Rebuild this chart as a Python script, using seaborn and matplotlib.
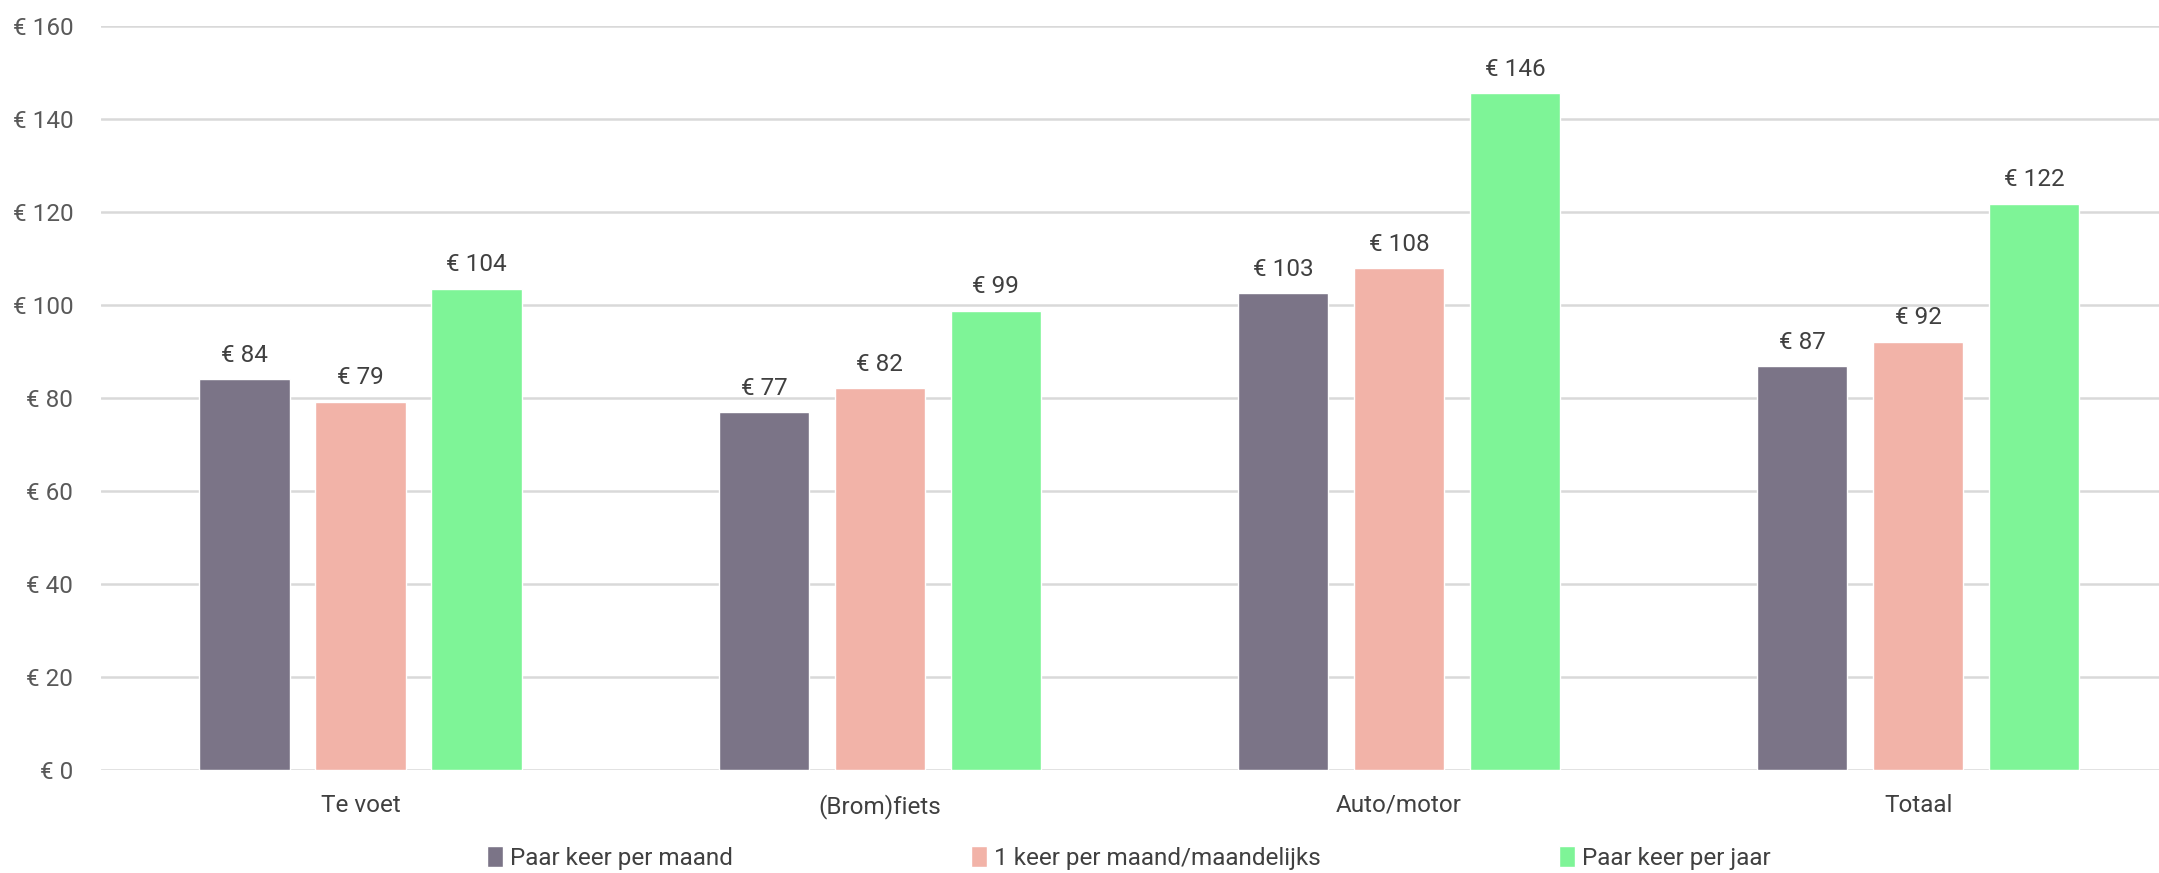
import pandas as pd
import numpy as np

import matplotlib
matplotlib.use('Agg')
import matplotlib.pyplot as plt
import seaborn as sns

# data
categories = ['Te voet', '(Brom)fiets', 'Auto/motor', 'Totaal']
series_names = ['Paar keer per maand', '1 keer per maand/maandelijks', 'Paar keer per jaar']
paar_keer_per_maand = [84.1, 77.0, 102.6, 86.9]
een_keer_per_maand = [79.2, 82.1, 107.9, 92.1]
paar_keer_per_jaar = [103.5, 98.8, 145.6, 121.8]
y_ticks = [0, 20, 40, 60, 80, 100, 120, 140, 160]

colors = ['#7B7487', '#F2B3A8', '#7EF497']

df = pd.DataFrame({
    'categorie': categories * 3,
    'reeks': [s for s in series_names for _ in categories],
    'bedrag': paar_keer_per_maand + een_keer_per_maand + paar_keer_per_jaar,
})

sns.set_theme(style='white')
plt.rcParams['font.family'] = ['Roboto', 'DejaVu Sans']

fs = 17.5

fig = plt.figure(figsize=(21.59, 8.73), dpi=100)
ax = fig.add_axes([0.0468, 0.118, 0.9532, 0.852])

sns.barplot(data=df, x='categorie', y='bedrag', hue='reeks',
            order=categories, hue_order=series_names,
            palette=colors, width=0.67, gap=0.22,
            saturation=1, errorbar=None, ax=ax, zorder=3)

ax.set_ylim(0, 160)
ax.set_xlim(-0.5, 3.464)
ax.set_yticks(y_ticks)
ax.set_yticklabels(['€ ' + str(t) for t in y_ticks])
ax.yaxis.grid(True, color='#D9D9D9', linewidth=1.8, zorder=0)
ax.set_axisbelow(True)
for side in ['top', 'right', 'left', 'bottom']:
    ax.spines[side].set_visible(False)

ax.tick_params(axis='y', labelsize=fs, labelcolor='#595959', length=0, pad=20)
ax.tick_params(axis='x', labelsize=fs, labelcolor='#404040', length=0, pad=17)
ax.set_xlabel('')
ax.set_ylabel('')

for container in ax.containers:
    ax.bar_label(container, labels=['€ ' + str(int(round(v))) for v in container.datavalues],
                 padding=9, fontsize=fs, color='#404040')

handles, labels = ax.get_legend_handles_labels()
ax.legend_.remove()
leg = fig.legend(handles, labels, loc='center', bbox_to_anchor=(0.523, 0.017), ncol=3,
                 frameon=False, fontsize=fs, handlelength=0.65, handleheight=0.9,
                 handletextpad=0.3, columnspacing=9.8, borderpad=0)
for txt in leg.get_texts():
    txt.set_color('#404040')

fig.savefig('out.png', dpi=100)
